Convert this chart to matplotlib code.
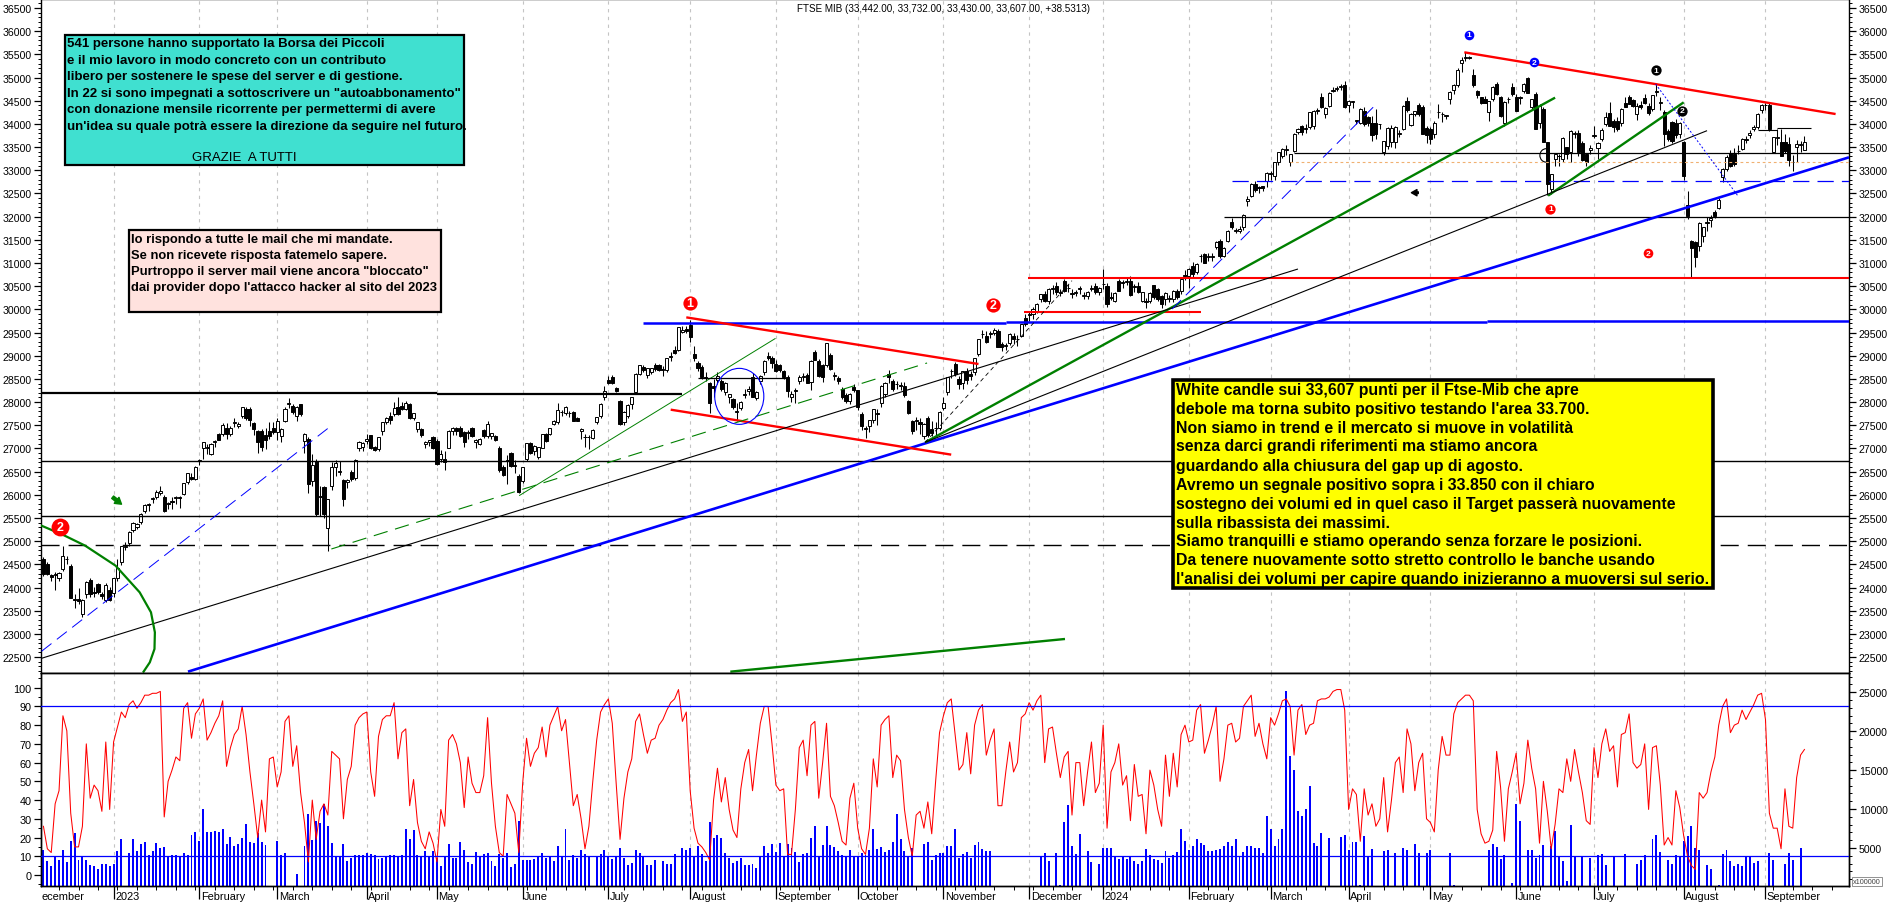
import matplotlib
matplotlib.use("Agg")
import matplotlib.pyplot as plt
from matplotlib.patches import Rectangle, Ellipse, Arc
plt.rcParams['font.family'] = ['Liberation Sans', 'DejaVu Sans']

W, H = 1890, 903

# ---- daily candles (open, high, low, close), one small list per month ----
dec22 = [(24610,24650,24250,24290),(24500,24560,24260,24300),(24280,24300,24130,24230),(24260,24330,23950,24300),(24200,24330,24150,24320),(24410,24900,24350,24670),(24610,24680,24500,24620),(24470,24500,23770,23770),(23760,23870,23550,23720),(23750,24000,23650,23700),(23430,23750,23370,23740),(23850,24130,23780,24120),(24160,24210,23800,23850),(23890,24020,23800,23880),(24070,24090,23850,23900),(23860,23910,23750,23820),(23720,24090,23690,24050),(23950,24020,23710,23740)]
jan23 = [(23880,24210,23800,24200),(24200,24620,24130,24430),(24540,24900,24490,24890),(24880,24980,24800,24900),(24950,25220,24900,25200),(25240,25420,25200,25400),(25310,25400,25260,25370),(25420,25600,25380,25590),(25640,25800,25600,25780),(25770,25830,25640,25810),(25900,25960,25820,25930),(25950,26100,25900,26050),(26040,26190,26000,26080),(25950,26000,25630,25640),(25810,25850,25700,25800),(25860,25950,25700,25850),(25930,25970,25800,25960),(25950,25970,25720,25930),(26020,26260,26000,26250),(26280,26470,26240,26460),(26390,26480,26310,26350),(26340,26630,26310,26610)]
feb23 = [(26720,26780,26640,26740),(27000,27140,26770,27130),(27020,27100,26880,27040),(26870,27110,26860,27090),(27130,27180,27030,27150),(27310,27340,27180,27190),(27310,27540,27260,27510),(27450,27540,27200,27310),(27310,27480,27260,27450),(27540,27650,27460,27560),(27490,27560,27440,27530),(27710,27900,27650,27890),(27850,27890,27620,27650),(27860,27890,27480,27620),(27550,27580,27300,27420),(27380,27400,26900,27130),(27370,27420,26950,27030),(27300,27430,26990,27190),(27380,27560,27200,27260),(27450,27560,27320,27350)]
mar23 = [(27350,27650,27180,27600),(27260,27430,27130,27420),(27600,27900,27580,27850),(27960,28090,27880,27990),(27910,27950,27750,27790),(27690,27920,27600,27900),(27950,27960,27690,27750),(27170,27340,26900,27310),(27200,27250,26030,26230),(26300,26870,26200,26650),(26720,26780,25540,25590),(25950,26180,25540,25970),(26160,26180,25500,25590),(25280,25920,24780,25910),(26200,26700,26100,26590),(26600,26740,26400,26690),(26500,26730,26420,26520),(26310,26330,25750,25920),(26270,26350,26150,26310),(26500,26530,26300,26340),(26360,26780,26320,26760),(27020,27170,26950,27130),(27030,27130,26950,27120)]
apr23 = [(27160,27320,27100,27210),(27280,27300,26990,27020),(27030,27060,26950,26960),(26990,27250,26950,27240),(27380,27570,27300,27560),(27560,27680,27530,27650),(27700,27780,27520,27620),(27740,28000,27700,27880),(27900,28110,27730,27740),(27910,28010,27830,27840),(27850,28030,27820,27970),(27960,27980,27640,27650),(27650,27770,27610,27760),(27420,27570,27350,27560),(27420,27440,27240,27280),(27100,27170,27000,27130),(27140,27190,27060,27180),(27240,27270,26980,27020)]
may23 = [(27170,27200,26650,26660),(26770,26970,26700,26880),(26770,26950,26530,26710),(27020,27390,27000,27380),(27380,27460,27300,27440),(27440,27470,27300,27380),(27450,27480,27240,27270),(27360,27380,27040,27130),(27330,27400,27200,27340),(27430,27460,27240,27260),(27140,27210,27000,27190),(27100,27220,27080,27200),(27400,27420,27230,27260),(27270,27600,27230,27525),(27270,27340,27200,27330),(27260,27300,27170,27190),(27000,27060,26500,26540),(26590,26650,26400,26425),(26720,26850,26230,26740),(26900,26930,26590,26615),(26620,26750,26480,26640),(26410,26450,26040,26070)]
jun23 = [(26305,26600,26260,26590),(26770,27120,26720,27110),(27110,27130,26880,26900),(26950,27070,26850,27060),(26810,27040,26780,27030),(27020,27320,27000,27310),(27310,27340,27130,27170),(27310,27440,27280,27430),(27530,27620,27510,27600),(27560,27990,27520,27830),(27780,27830,27700,27790),(27760,27920,27730,27890),(27760,27800,27680,27770),(27780,27800,27590,27600),(27650,27670,27590,27600),(27370,27430,27200,27420),(27240,27310,27040,27250),(27240,27300,26990,27250),(27230,27410,27200,27390),(27560,27680,27520,27670),(27690,27970,27660,27960),(28100,28350,28050,28240)]
jul23 = [(28470,28560,28380,28410),(28530,28590,28380,28410),(28300,28330,28220,28240),(28030,28050,27500,27530),(27560,27800,27500,27780),(27690,27960,27650,27930),(27960,28110,27850,28100),(28210,28620,28180,28600),(28610,28810,28580,28790),(28760,28790,28650,28690),(28590,28740,28520,28730),(28650,28740,28600,28730),(28800,28840,28670,28710),(28800,28830,28660,28690),(28700,28780,28560,28710),(28690,28960,28640,28940),(28970,29090,28880,29000),(29130,29200,29030,29060),(29130,29620,29100,29610),(29520,29650,29480,29560),(29570,29640,29500,29530)]
aug23 = [(29660,29780,29300,29395),(29040,29220,28880,28960),(28840,28880,28680,28730),(28760,28800,28500,28530),(28530,28650,28450,28520),(28410,28440,27770,27990),(28350,28500,28100,28300),(28470,28650,28400,28570),(28460,28500,28240,28280),(28210,28430,28150,28420),(28100,28180,27970,28170),(28070,28090,27850,27890),(27790,27970,27600,27810),(27870,28020,27820,28010),(28150,28290,28080,28170),(28240,28340,28150,28280),(28530,28620,28100,28100),(28080,28240,28040,28220),(28460,28590,28380,28570),(28640,28910,28580,28890),(28990,29090,28900,28960),(28960,28990,28740,28840)]
sep23 = [(28830,28900,28640,28680),(28790,28830,28640,28700),(28670,28700,28490,28530),(28550,28580,28120,28230),(28120,28240,28000,28170),(28230,28300,27990,28270),(28460,28590,28400,28550),(28540,28620,28450,28570),(28580,28620,28410,28420),(28425,28900,28260,28890),(29070,29120,28900,28910),(28890,28930,28530,28570),(28790,28820,28430,28530),(28790,29280,28760,29265),(29010,29060,28700,28710),(28570,28650,28480,28590),(28510,28570,28390,28450),(28290,28320,28060,28100),(28150,28190,27980,28030),(28030,28190,27950,28170),(28320,28400,28220,28250)]
oct23 = [(28250,28270,27830,27890),(27740,27780,27390,27490),(27410,27480,27220,27450),(27490,27620,27350,27610),(27620,27860,27550,27850),(27760,27840,27510,27740),(27970,28360,27900,28350),(28170,28430,28120,28420),(28600,28690,28410,28530),(28460,28500,28240,28280),(28390,28450,28280,28380),(28360,28440,28250,28350),(28350,28430,28120,28160),(28030,28050,27750,27760),(27590,27620,27320,27380),(27590,27680,27390,27600),(27570,27660,27320,27520),(27270,27540,27200,27530),(27650,27700,27250,27280),(27420,27600,27260,27330),(27430,27560,27300,27440),(27450,27800,27390,27790)]
nov23 = [(27870,28100,27820,27990),(28210,28550,28150,28530),(28660,28710,28520,28670),(28820,28860,28560,28600),(28490,28560,28290,28380),(28420,28680,28290,28670),(28680,28730,28400,28470),(28600,28680,28480,28560),(28640,28950,28580,28940),(29040,29370,29000,29360),(29460,29560,29380,29470),(29430,29530,29280,29290),(29470,29540,29380,29480),(29500,29600,29440,29560),(29540,29570,29180,29180),(29250,29300,29100,29180),(29210,29280,29120,29230),(29280,29480,29230,29470),(29430,29480,29250,29360),(29360,29440,29200,29350),(29430,29680,29400,29680),(29810,29900,29650,29680)]
dec23 = [(29870,29960,29750,29900),(29900,30060,29800,30000),(29970,30130,29920,30115),(30220,30340,30150,30330),(30330,30400,30150,30190),(30190,30450,30120,30440),(30440,30520,30340,30450),(30510,30580,30320,30370),(30370,30440,30280,30360),(30610,30650,30370,30400),(30450,30540,30380,30470),(30330,30430,30250,30340),(30360,30420,30280,30370),(30450,30500,30340,30440),(30290,30370,30230,30300),(30290,30400,30230,30380),(30440,30520,30390,30450),(30510,30560,30340,30370),(30370,30490,30300,30470)]
jan24 = [(30540,30880,30430,30550),(30510,30560,30050,30110),(30250,30370,30200,30260),(30190,30370,30160,30360),(30610,30660,30400,30400),(30580,30640,30450,30570),(30590,30700,30520,30600),(30620,30730,30280,30300),(30490,30550,30380,30500),(30510,30580,30350,30370),(30190,30380,30150,30370),(30160,30250,30030,30170),(30190,30370,30130,30360),(30520,30530,30230,30260),(30440,30470,30180,30220),(30290,30320,30020,30110),(30220,30370,30100,30360),(30220,30320,30150,30230),(30220,30420,30150,30400),(30400,30430,30220,30260),(30400,30680,30330,30650),(30730,30840,30640,30740)]
feb24 = [(30720,30900,30450,30870),(30940,31030,30700,30760),(30800,31000,30760,30980),(31140,31200,31020,31160),(31190,31220,30990,31010),(31130,31210,31050,31160),(31130,31210,31050,31160),(31340,31480,31300,31460),(31480,31520,31100,31160),(31160,31340,31120,31330),(31480,31710,31450,31700),(31890,31980,31740,31770),(31700,31760,31640,31720),(31700,31790,31650,31740),(31770,32050,31720,32030),(32340,32440,32220,32370),(32450,32720,32420,32700),(32700,32760,32540,32580),(32640,32670,32520,32620),(32650,32670,32560,32610),(32770,32960,32640,32950)]
mar24 = [(32930,32980,32800,32950),(32880,33180,32800,33170),(33170,33400,33120,33390),(33310,33480,33270,33450),(33430,33540,33320,33450),(33170,33360,33100,33350),(33420,33800,33400,33780),(33820,33920,33780,33890),(33960,33980,33760,33820),(33900,34000,33800,33920),(33930,34260,33880,34250),(33960,34300,33900,34280),(34270,34340,34220,34300),(34590,34660,34340,34360),(34210,34360,34130,34350),(34390,34680,34370,34660),(34720,34790,34680,34740),(34750,34820,34700,34770),(34790,34850,34740,34810),(34840,34920,34340,34360)]
apr24 = [(34410,34520,34250,34500),(34470,34500,34350,34490),(34060,34090,34000,34080),(34030,34340,34000,34320),(34280,34370,33960,33990),(34140,34180,33960,34030),(34030,34180,33640,33750),(34030,34320,33670,33780),(33990,34000,33900,34000),(33390,33640,33330,33640),(33530,33930,33460,33920),(33600,33970,33500,33920),(33620,33950,33470,33940),(33780,33860,33710,33790),(33890,34410,33870,34390),(34500,34580,34260,34290),(33980,34240,33960,34210),(34210,34280,34160,34280),(34400,34440,34170,34210),(34360,34400,33780,33780),(33920,33950,33580,33760)]
may24 = [(33900,33940,33570,33670),(33780,34060,33700,34030),(34250,34420,34120,34260),(34220,34250,34050,34210),(34170,34200,34100,34180),(34540,34700,34430,34680),(34740,34860,34640,34840),(34840,35200,34800,35170),(35310,35450,35130,35385),(35420,35550,35350,35440),(35430,35460,35390,35420),(35050,35180,34790,34840),(34710,34730,34560,34630),(34570,34590,34420,34460),(34540,34600,34440,34460),(34250,34500,34060,34500),(34540,34810,34500,34790),(34870,34900,34620,34640),(34590,34610,34150,34180),(34030,34500,33950,34480),(34530,34580,34440,34540),(34800,34880,34610,34650)]
jun24 = [(34590,34650,34280,34280),(34560,34600,34420,34570),(34720,34880,34660,34850),(34990,35010,34660,34670),(34360,34540,34320,34530),(34640,34680,33900,33900),(34030,34420,33920,34390),(34320,34360,33610,33615),(33600,33620,32470,32700),(32600,32920,32490,32920),(33240,33360,33100,33350),(33300,33350,33100,33310),(33240,33720,33170,33690),(33500,33510,33240,33360),(33390,33870,33180,33850),(33790,33850,33700,33800),(33810,33860,33300,33390),(33590,33630,33210,33230),(33340,33370,33090,33170),(33440,33540,33340,33480)]
jul24 = [(33730,33960,33700,33760),(33490,33600,33240,33590),(33670,33910,33640,33870),(34000,34260,33950,34140),(34230,34470,33950,33960),(34070,34110,33830,33940),(34060,34140,33850,33890),(34030,34340,33950,34330),(34450,34580,34360,34360),(34580,34620,34420,34430),(34520,34540,34370,34390),(34210,34440,34090,34390),(34400,34490,34330,34360),(34550,34650,34420,34440),(34390,34440,34190,34235),(34320,34630,34280,34630),(34680,34860,34600,34700),(34460,34580,34300,34480),(34250,34290,33520,33780),(33850,33890,33640,33670),(34040,34060,33590,33640),(34030,34100,33700,33750),(33780,34040,33690,34030)]
aug24 = [(33600,33640,32790,32880),(32240,32560,31950,32020),(31480,31500,30690,31315),(31460,31480,30910,31120),(31370,31890,31260,31860),(31590,31780,31450,31770),(31870,31990,31690,31880),(31920,32040,31780,31980),(32100,32140,31970,32020),(32180,32400,32160,32360),(32850,33040,32740,33030),(33030,33320,32980,33280),(33370,33440,33060,33100),(33350,33470,33100,33140),(33420,33540,33350,33410),(33460,33690,33440,33680),(33650,33740,33580,33660),(33770,33860,33700,33810),(33890,33980,33840,33930),(33930,34240,33900,34210),(34290,34420,34240,34410)]
sep24 = [(34400,34440,34300,34410),(34410,34440,33850,33890),(33400,33720,33370,33710),(33700,33900,33550,33710),(33620,33880,33300,33310),(33600,33790,33380,33420),(33570,33720,33100,33230),(33180,33330,32980,33170),(33500,33650,33180,33570),(33540,33640,33400,33570),(33442,33732,33430,33607)]
candle_months = [dec22,jan23,feb23,mar23,apr23,may23,jun23,jul23,aug23,sep23,oct23,nov23,dec23,jan24,feb24,mar24,apr24,may24,jun24,jul24,aug24,sep24]

# ---- oscillator (left scale of lower panel) ----
osc_2022 = [26,14,12,38,45,85,77,33,15,15,26,70,41,48,45,34,71,35]
osc_h1_23 = [71,79,87,84,91,93,89,92,96,96,97,97,98,31,50,56,63,61,89,92,73,86,
 89,94,72,76,81,85,93,58,68,75,78,90,75,55,38,20,40,23,62,63,
 47,55,82,85,58,69,44,28,7,40,19,34,38,32,66,64,62,30,51,58,80,84,86,
 87,55,42,74,83,85,85,92,62,76,78,37,51,28,18,14,23,17,
 7,35,26,72,75,70,60,36,63,49,44,44,53,84,49,26,12,10,43,38,33,12,
 49,73,58,65,68,79,63,80,85,90,77,83,60,37,43,30,14,26,50,72,87,91]
osc_h2_23 = [94,81,49,19,41,55,62,82,86,75,65,72,73,80,83,88,92,94,99,82,87,
 45,25,17,15,12,8,40,57,39,52,35,24,20,46,60,67,45,64,81,90,90,70,
 48,45,46,11,11,35,68,72,53,80,82,41,60,81,42,37,28,18,16,41,49,
 25,14,11,25,62,47,80,83,85,52,64,61,35,20,10,32,34,25,39,22,50,76,
 85,92,94,75,56,59,76,54,80,88,91,64,72,78,37,37,55,71,55,60,84,86,
 92,88,93,96,60,78,79,65,52,63,66,32,60,60,37,55,71,44,49]
osc_h1_24 = [80,25,55,60,70,48,53,29,59,42,43,22,56,48,35,26,64,42,65,47,75,80,
 71,72,88,91,65,72,80,90,50,62,80,81,71,73,90,93,96,74,81,70,62,
 84,80,86,93,94,90,64,88,91,75,80,81,93,94,94,95,98,99,99,88,
 35,46,43,18,46,32,38,26,30,52,23,40,60,63,44,78,70,45,60,65,30,
 28,23,56,74,64,64,86,92,94,96,96,93,35,22,17,18,24,66,47,18,46,55,
 65,38,49,72,57,46,17,50,34,14,27,46,44,62,50,67,55,44,29,27]
osc_h2_24 = [68,52,70,78,66,69,47,75,76,86,60,57,59,70,35,68,69,48,16,20,16,45,36,
 21,10,5,3,44,41,44,55,63,80,90,94,76,80,81,88,83,87,91,96,97,
 83,33,25,25,14,46,26,25,52,64,67]
osc_parts = [osc_2022, osc_h1_23, osc_h2_23, osc_h1_24, osc_h2_24]

# ---- volume (right scale of lower panel, x100000) ----
vol_2022 = [4800,3300,2650,3950,3450,4800,3200,5900,6900,3400,3950,3450,2850,2650,2250,2950,3000,2650]
vol_h1_23 = [2900,4650,6100,0,4400,6100,4600,5500,5800,4150,4650,5650,5000,5150,3950,4050,4150,3950,4400,4150,6700,7100,
 5900,9950,7000,7000,7200,7000,7500,5550,6450,5200,5500,6300,8100,5800,5650,6950,5800,5400,0,0,
 5950,4050,4400,0,0,1600,0,5200,9300,6000,8500,8200,10600,7800,5700,3950,3950,5550,3300,3750,4050,4050,4050,
 4300,4200,4050,3550,3750,3850,4050,4100,3850,4050,7500,6100,7300,4100,3850,4600,3950,4600,
 3700,2650,3850,5550,3650,3650,5800,4700,3200,2900,4500,3850,4200,4300,3300,2650,4200,3700,4300,2550,3000,8500,
 3400,3400,3400,3600,3950,4400,3700,3950,3350,5200,3950,7500,3500,4050,3700,4800,4200,3950,0,3850,4200,4700]
vol_h2_23 = [3950,3600,3850,4950,3700,2750,3100,4700,4300,3850,2750,2750,3500,0,3300,3000,3000,4250,0,5000,4700,
 5000,3950,5200,4200,3350,8400,6300,6700,6300,4400,3700,3100,3300,3650,2850,2850,2950,2450,3950,5200,4400,5500,
 4500,5650,4000,5500,5000,4500,3200,4200,4300,6300,7800,3950,5350,7800,5350,5150,4650,4100,3800,4800,3950,
 3950,4400,4150,4800,7500,4900,5100,4500,4700,5800,9300,6100,4650,3900,5000,0,0,5500,5800,3450,4050,4300,
 4400,5200,5300,7500,3750,4200,4500,3750,5350,5800,4900,4650,4650,170,170,170,170,170,170,170,170,170,
 170,170,170,3950,4400,3300,170,4400,300,8400,10500,5200,4200,6800,170,4650,3200,170,2900]
vol_h1_24 = [5000,4950,4950,3950,3600,3850,3600,3950,3300,2950,3300,4900,4050,3600,3500,3100,4600,3700,4050,4500,7500,5900,
 4800,5200,6100,5650,5350,4600,4600,4700,4900,5250,5750,5250,6150,3950,4450,5250,5250,4950,4950,4300,9100,
 7500,5250,6150,7400,25100,16800,15000,9700,9150,9950,13000,5650,5250,6950,170,6300,170,170,6350,6650,4800,
 5750,5750,220,6500,3950,4850,170,170,4600,4700,170,4300,170,5050,4800,170,5500,4300,170,4400,4700,
 170,170,170,170,4350,220,170,170,170,170,170,170,170,170,4700,5550,5100,3600,4050,170,450,10700,
 8500,170,4800,4800,3750,4050,5350,170,5200,7200,3900,3350,800,8000,3950,170,3950,170,3750]
vol_h2_24 = [170,4100,4200,2850,170,3900,170,170,4200,170,170,3000,3400,4050,170,6100,6700,4500,170,3400,3000,4100,3950,
 5850,6500,7800,5000,4800,170,2750,2300,170,220,4200,4800,3300,2700,3000,2700,3950,3950,3100,3350,170,
 170,4400,3400,170,170,2950,4400,3500,170,5000,0]
vol_parts = [vol_2022, vol_h1_23, vol_h2_23, vol_h1_24, vol_h2_24]

# ---- axis labels ----
month_first_bar = [18,40,60,83,101,123,145,166,188,209,231,253,272,294,315,335,356,378,398,421,442]
month_labels = ["2023","February","March","April","May","June","July","August","September","October","November","December","2024","February","March","April","May","June","July","August","September"]
candle_starts = [0]+month_first_bar

BAR_PX = 3.896
X0, X1 = 41.5, 1849
Y_SPLIT, Y_BOT = 673.5, 887.0

def ax_rect(top, bottom):
    return [X0/W, 1-bottom/H, (X1-X0)/W, (bottom-top)/H]

fig = plt.figure(figsize=(W/100, H/100), dpi=100, facecolor='white')
ax = fig.add_axes(ax_rect(0, Y_SPLIT))
axv = fig.add_axes(ax_rect(Y_SPLIT, Y_BOT))
axo = axv.twinx()
xmax = (X1-X0)/BAR_PX-0.5
for a in (ax, axv, axo):
    a.set_xlim(-0.5, xmax)
    for s in a.spines.values():
        s.set_linewidth(1.0)
ax.set_ylim(22167, 36694)
axv.set_ylim(115, 27540)
axo.set_ylim(-5.87, 108.1)

# gridlines
for m in month_first_bar:
    ax.axvline(m, color='#c4c4c4', lw=0.8, ls=(0, (3, 4)), zorder=0)
    axv.axvline(m, color='#c4c4c4', lw=0.8, ls=(0, (3, 4)), zorder=0)

# candles
for start, month in zip(candle_starts, candle_months):
    for j, (o, h, l, c) in enumerate(month):
        i = start+j
        ax.plot([i, i], [l, h], color='black', lw=0.75, zorder=4, solid_capstyle='butt')
        up = c >= o
        ax.add_patch(Rectangle((i-0.4, min(o, c)), 0.8, max(abs(c-o), 14),
                               facecolor='white' if up else 'black',
                               edgecolor='black', lw=0.7, zorder=5))

# trend lines: (bar0, price0, bar1, price1, colour, width, style)
E = xmax
solid = '-'
dash = (0, (13, 7))
longd = (0, (13, 6.5))
shortd = (0, (5, 4))
dots = (0, (2, 2))
lines = [
 (-0.5,28195,101,28195,'black',1.6,solid),(101,28174,164,28174,'black',1.6,solid),
 (-0.5,26722,E,26722,'black',1.0,solid),(-0.5,25536,E,25536,'black',1.0,solid),
 (-0.5,24910,E,24910,'black',1.0,longd),
 (321,33365,E,33365,'black',0.9,solid),(303,31985,E,31985,'black',0.9,solid),
 (320,33171,E,33171,'#f0b070',0.8,(0, (2.5, 2.5))),(305,32761,E,32761,'#0000ff',0.9,longd),
 (154,29705,247,29705,'#0000ff',1.8,solid),(247,29727,370.5,29727,'#0000ff',1.8,solid),(370.5,29750,E,29750,'#0000ff',1.8,solid),
 (37.1,22185,E,33279,'#0000ff',1.9,solid),
 (252.8,30676,E,30676,'#ff0000',1.5,solid),(251.8,29950,297,29950,'#ff0000',1.5,solid),
 (165,29827,240,28821,'#ff0000',1.7,solid),(161,27836,233,26866,'#ff0000',1.7,solid),
 (364.7,35544,460,34213,'#ff0000',1.7,solid),
 (226.3,27131,388,34566,'#008000',1.7,solid),(386.2,32452,421,34465,'#008000',1.7,solid),
 (122.1,25981,187.9,29374,'#008000',0.7,solid),(73.9,24831,226.8,28843,'#008000',0.8,dash),
 (176.3,22185,262.2,22890,'#008000',1.7,solid),
 (-0.5,22473,322,30870,'black',0.8,solid),(226.3,27131,427,33854,'black',0.8,solid),
 (226.3,27131,264,30618,'black',0.6,shortd),
 (-0.5,22624,73.9,27491,'#0000ff',0.7,dash),(289.7,30007,341.7,34393,'#0000ff',0.7,dash),
 (413.8,34860,435,32437,'#0000ff',0.7,dots),
 (440,33870,445,33870,'black',0.8,solid),(445,33910,453.8,33910,'black',0.8,solid),
 (168,28519,190.5,28519,'black',0.9,solid),
]
for x0, p0, x1, p1, col, lw, ls in lines:
    ax.plot([x0, x1], [p0, p1], color=col, lw=lw, ls=ls, zorder=6, solid_capstyle='butt')

arc_bars = [-0.5,5.1,10.7,18.5,24.7,27.6,28.6,28.5,27.3,25.7]
arc_prices = [25334,25133,24903,24472,23896,23465,23034,22674,22386,22185]
ax.plot(arc_bars, arc_prices, color='#008000', lw=1.6, zorder=6)

ax.add_patch(Ellipse((178.6, 28123), 12.6, 1208, fill=False, edgecolor='#0000ff', lw=0.8, zorder=6))
ax.add_patch(Arc((385.7, 33320), 3.2, 290, theta1=90, theta2=270, edgecolor='black', lw=0.8, zorder=6))

# arrows
ax.annotate('', xy=(20.6, 25760), xytext=(17.2, 25985),
            arrowprops=dict(arrowstyle='simple,head_width=0.55,tail_width=0.22,head_length=0.45', color='#008000'), zorder=7)
ax.annotate('', xy=(350.4, 32516), xytext=(353.6, 32516),
            arrowprops=dict(arrowstyle='simple,head_width=0.45,tail_width=0.12,head_length=0.4', color='black'), zorder=7)

# numbered markers: (bar, price, digit, colour, size)
badges = [
 (166,30130,'1','#ff0000',105),(243.8,30100,'2','#ff0000',105),(4.3,25300,'2','#ff0000',165),
 (365.9,35925,'1','#0000ff',48),(382.7,35330,'2','#0000ff',48),(413.8,35155,'1','black',55),(420.7,34285,'2','black',55),
 (386.8,32175,'1','#ff0000',55),(411.8,31205,'2','#ff0000',48),
]
for b, p, d, col, s in badges:
    ax.scatter([b], [p], s=s, color=col, zorder=8, linewidths=0)
    ax.text(b, p, d, color='white', ha='center', va='center', fontsize=9 if s > 100 else 6, fontweight='bold', zorder=9)

# lower panel
vols = [v for part in vol_parts for v in part]
oscs = [v for part in osc_parts for v in part]
axv.bar(range(len(vols)), vols, width=0.5, color='#0000ff', linewidth=0, zorder=2)
axo.plot(range(len(oscs)), oscs, color='#ff0000', lw=0.75, zorder=3)
axo.axhline(90, color='#0000ff', lw=0.9, zorder=4)
axo.axhline(10, color='#0000ff', lw=0.9, zorder=4)

# price axis ticks
ax.set_yticks(range(22500, 36501, 500))
ax.set_yticks(range(22200, 36601, 100), minor=True)
ax.set_xticks([])
ax.tick_params(axis='y', which='major', left=True, right=True, labelleft=True, labelright=True, length=5, width=0.9, labelsize=7.6, pad=2)
ax.tick_params(axis='y', which='minor', left=True, right=True, length=2.5, width=0.7)

# lower panel ticks
axo.yaxis.tick_left()
axo.set_yticks(range(0, 101, 10))
axo.set_yticks(range(-5, 106, 5), minor=True)
axo.tick_params(axis='y', which='major', length=5, width=0.9, labelsize=7.8, pad=2)
axo.tick_params(axis='y', which='minor', length=2.5, width=0.7)
axv.yaxis.tick_right()
axv.set_yticks(range(5000, 25001, 5000))
axv.set_yticklabels([str(v) for v in range(5000, 25001, 5000)])
axv.set_yticks(range(1000, 27001, 1000), minor=True)
axv.tick_params(axis='y', which='major', length=5, width=0.9, labelsize=7.6, pad=2)
axv.tick_params(axis='y', which='minor', length=2.5, width=0.7)
axo.set_xticks([])
axv.set_xticks(month_first_bar)
axv.set_xticklabels([])
axv.set_xticks(range(4, 464, 5), minor=True)
axv.tick_params(axis='x', which='major', length=9.5, width=0.9)
axv.tick_params(axis='x', which='minor', length=3, width=0.7)

def ftext(x, y, s, **kw):
    kw.setdefault('va', 'center')
    kw.setdefault('ha', 'left')
    return fig.text(x/W, 1-y/H, s, zorder=12, **kw)

ftext(42, 897, 'ecember', fontsize=7.9)
for m, lab in zip(month_first_bar, month_labels):
    ftext(X0+(m+0.5)*BAR_PX+1.5, 897, lab, fontsize=7.9)

ftext(797, 8.7, 'FTSE MIB (33,442.00, 33,732.00, 33,430.00, 33,607.00, +38.5313)', fontsize=7.1)

def box(x0, y0, x1, y1, face, lw):
    fig.add_artist(Rectangle((x0/W, 1-y1/H), (x1-x0)/W, (y1-y0)/H, transform=fig.transFigure,
                             facecolor=face, edgecolor='black', lw=lw, zorder=10))

box(65, 36, 464, 166, '#40e0d0', 1.6)
cyan_lines = [(67,43.5,"541 persone hanno supportato la Borsa dei Piccoli"),
 (67,61,"e il mio lavoro in modo concreto con un contributo"),
 (67,77,"libero per sostenere le spese del server e di gestione."),
 (67,93.5,"In 22 si sono impegnati a sottoscrivere un \"autoabbonamento\""),
 (67,110,"con donazione mensile ricorrente per permettermi di avere"),
 (67,127,"un'idea su quale potrà essere la direzione da seguire nel futuro."),
 (192,158,"GRAZIE  A TUTTI")]
for x, y, s in cyan_lines:
    ftext(x, y, s, fontsize=9.5, fontweight='bold' if y < 150 else 'normal')

box(129, 231, 441, 313, '#ffe2de', 1.6)
pink_lines = [(131.5,239.5,"Io rispondo a tutte le mail che mi mandate."),
 (131.5,255.7,"Se non ricevete risposta fatemelo sapere."),
 (131.5,272.5,"Purtroppo il server mail viene ancora \"bloccato\""),
 (131.5,288.5,"dai provider dopo l'attacco hacker al sito del 2023")]
for x, y, s in pink_lines:
    ftext(x, y, s, fontsize=9.4, fontweight='bold')

box(1173, 381, 1713, 588.5, '#ffff00', 2.6)
yellow_lines = [(390.7,"White candle sui 33,607 punti per il Ftse-Mib che apre"),
 (410,"debole ma torna subito positivo testando l'area 33.700."),
 (429,"Non siamo in trend e il mercato si muove in volatilità"),
 (447,"senza darci grandi riferimenti ma stiamo ancora"),
 (466.7,"guardando alla chiusura del gap up di agosto."),
 (485.7,"Avremo un segnale positivo sopra i 33.850 con il chiaro"),
 (504.3,"sostegno dei volumi ed in quel caso il Target passerà nuovamente"),
 (523.3,"sulla ribassista dei massimi."),
 (541.7,"Siamo tranquilli e stiamo operando senza forzare le posizioni."),
 (560.7,"Da tenere nuovamente sotto stretto controllo le banche usando"),
 (579.3,"l'analisi dei volumi per capire quando inizieranno a muoversi sul serio.")]
for y, s in yellow_lines:
    ftext(1176.5, y, s, fontsize=11.45, fontweight='bold')

# scale multiplier box
fig.add_artist(Rectangle((1852/W, 1-887/H), 30/W, 9.5/H, transform=fig.transFigure,
                         facecolor='white', edgecolor='#808080', lw=0.6, zorder=10))
ftext(1867, 882.5, 'x100000', fontsize=5.2, ha='center', color='#404040')

fig.savefig('out.png', dpi=100)
